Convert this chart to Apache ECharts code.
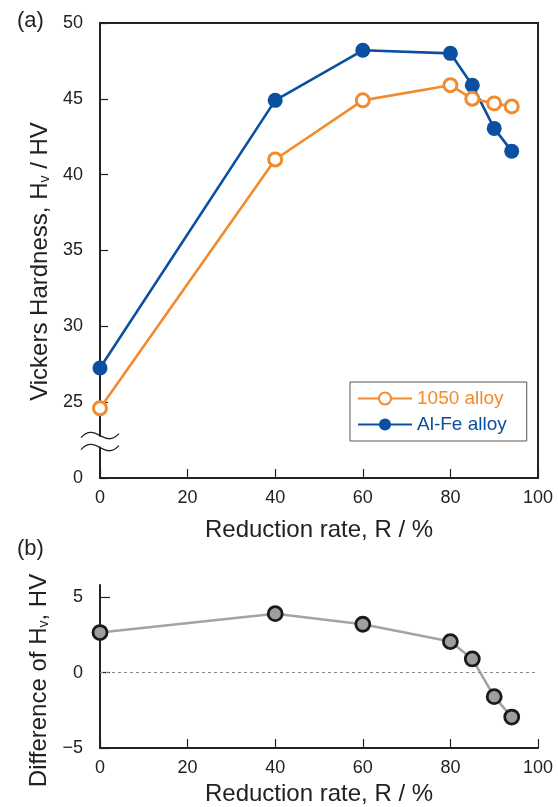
<!DOCTYPE html>
<html>
<head>
<meta charset="utf-8">
<script src="https://cdn.jsdelivr.net/npm/echarts@6/dist/echarts.min.js"></script>
<style>
  html, body { margin: 0; padding: 0; background: #fff; }
  #main { width: 558px; height: 807px; }
</style>
</head>
<body>
<div id="main"></div>
<script>
// reduction rate, %
var reduction = [0, 40, 60, 80, 85, 90, 94];
// Vickers hardness, HV
var hv1050 = [24.6, 41.0, 44.9, 45.9, 45.0, 44.7, 44.5];
var hvAlFe = [27.25, 44.9, 48.2, 48.0, 45.9, 43.05, 41.55];
// difference Al-Fe minus 1050
var hvDiff = [2.65, 3.9, 3.2, 2.05, 0.9, -1.6, -2.95];

var FONT = 'Liberation Sans';
var ORANGE = '#F28A2E';
var BLUE = '#0A4FA0';
var INK = '#222';

function pairs(xs, ys) {
  return xs.map(function (x, i) { return [x, ys[i]]; });
}

var chart = echarts.init(document.getElementById('main'));

var xAxisBase = {
  type: 'value',
  min: 0,
  max: 100,
  interval: 20,
  nameLocation: 'middle',
  nameTextStyle: { fontFamily: FONT, fontSize: 24, color: INK },
  axisLine: { onZero: false, lineStyle: { color: INK, width: 2 } },
  axisTick: { inside: true, length: 9, lineStyle: { color: INK, width: 1.2 } },
  axisLabel: { fontFamily: FONT, fontSize: 18, color: INK, margin: 11 },
  splitLine: { show: false }
};

var subRich = { s: { fontFamily: FONT, fontSize: 14, color: INK, verticalAlign: 'bottom' } };

chart.setOption({
  animation: false,
  title: [
    { text: '(a)', left: 12, top: 5, textStyle: { fontFamily: FONT, fontSize: 22, fontWeight: 'normal', color: INK } },
    { text: '(b)', left: 12, top: 533, textStyle: { fontFamily: FONT, fontSize: 22, fontWeight: 'normal', color: INK } }
  ],
  legend: {
    left: 350,
    top: 382,
    orient: 'vertical',
    itemWidth: 54,
    itemHeight: 15,
    itemGap: 7,
    padding: [7, 20, 7, 7],
    borderColor: '#555',
    borderWidth: 1,
    data: [
      { name: '1050 alloy', textStyle: { color: ORANGE } },
      { name: 'Al-Fe alloy', textStyle: { color: BLUE } }
    ],
    textStyle: { fontFamily: FONT, fontSize: 19 }
  },
  grid: [
    { left: 100, right: 20, top: 23, height: 455, show: true, borderColor: INK, borderWidth: 2 },
    { left: 100, right: 20, top: 585, height: 166 }
  ],
  xAxis: [
    Object.assign({}, xAxisBase, { gridIndex: 0, name: 'Reduction rate, R / %', nameGap: 40 }),
    Object.assign({}, xAxisBase, { gridIndex: 1, name: 'Reduction rate, R / %', nameGap: 34 })
  ],
  yAxis: [
    {
      gridIndex: 0,
      type: 'value',
      min: 20,
      max: 50,
      interval: 5,
      name: 'Vickers Hardness, H{s|v} / HV',
      nameLocation: 'middle',
      nameGap: 46,
      nameTextStyle: { fontFamily: FONT, fontSize: 24, color: INK, padding: [0, 22, 0, 0], rich: subRich },
      axisLine: { onZero: false, lineStyle: { color: INK, width: 2 } },
      axisTick: { inside: true, length: 8, lineStyle: { color: INK, width: 1.2 } },
      axisLabel: {
        fontFamily: FONT, fontSize: 18, color: INK, margin: 17,
        // axis is broken below 25: bottom of the axis stands for 0
        formatter: function (v) { return v === 20 ? '0' : String(v); }
      },
      splitLine: { show: false }
    },
    {
      gridIndex: 1,
      type: 'value',
      min: -5,
      max: 5.8,
      interval: 5,
      name: 'Difference of H{s|v}, HV',
      nameLocation: 'middle',
      nameGap: 46,
      nameTextStyle: { fontFamily: FONT, fontSize: 24, color: INK, padding: [0, 28, 0, 0], rich: subRich },
      axisLine: { onZero: false, lineStyle: { color: INK, width: 2 } },
      axisTick: { inside: true, length: 10, customValues: [-5, 0, 5], lineStyle: { color: INK, width: 1.2 } },
      axisLabel: {
        fontFamily: FONT, fontSize: 18, color: INK, margin: 17,
        customValues: [-5, 0, 5],
        formatter: function (v) { return v < 0 ? '\u2212' + Math.abs(v) : String(v); }
      },
      splitLine: { show: false }
    }
  ],
  series: [
    {
      name: 'Al-Fe alloy',
      type: 'line',
      xAxisIndex: 0,
      yAxisIndex: 0,
      data: pairs(reduction, hvAlFe),
      clip: false,
      symbol: 'circle',
      symbolSize: 15,
      lineStyle: { color: BLUE, width: 2.6 },
      itemStyle: { color: BLUE, borderWidth: 0 }
    },
    {
      name: '1050 alloy',
      type: 'line',
      xAxisIndex: 0,
      yAxisIndex: 0,
      data: pairs(reduction, hv1050),
      clip: false,
      symbol: 'circle',
      symbolSize: 13,
      lineStyle: { color: ORANGE, width: 2.6 },
      itemStyle: { color: '#fff', borderColor: ORANGE, borderWidth: 3 }
    },
    {
      name: 'diff',
      type: 'line',
      xAxisIndex: 1,
      yAxisIndex: 1,
      data: pairs(reduction, hvDiff),
      clip: false,
      symbol: 'circle',
      symbolSize: 14,
      lineStyle: { color: '#A3A3A3', width: 2.6 },
      itemStyle: { color: '#9E9E9E', borderColor: '#1a1a1a', borderWidth: 2.8 },
      markLine: {
        silent: true,
        symbol: 'none',
        label: { show: false },
        lineStyle: { color: '#888', type: [3, 3], width: 1.2 },
        data: [{ yAxis: 0 }]
      }
    }
  ]
});

// axis break mark between 0 and 25 on the hardness axis
var p = chart.convertToPixel({ xAxisIndex: 0, yAxisIndex: 0 }, [0, 22.4]);
function wave(dy) {
  var y = p[1] + dy;
  return {
    type: 'bezierCurve',
    z: 101,
    shape: {
      x1: p[0] - 19, y1: y + 2,
      cpx1: p[0] - 4, cpy1: y - 14,
      cpx2: p[0] + 4, cpy2: y + 14,
      x2: p[0] + 19, y2: y - 2
    },
    style: { fill: null, stroke: INK, lineWidth: 1.3 }
  };
}
chart.setOption({
  graphic: [
    { type: 'rect', shape: { x: p[0] - 3, y: p[1] - 5, width: 6, height: 10 }, style: { fill: '#fff' }, z: 100 },
    wave(-6),
    wave(6)
  ]
});
</script>
</body>
</html>
